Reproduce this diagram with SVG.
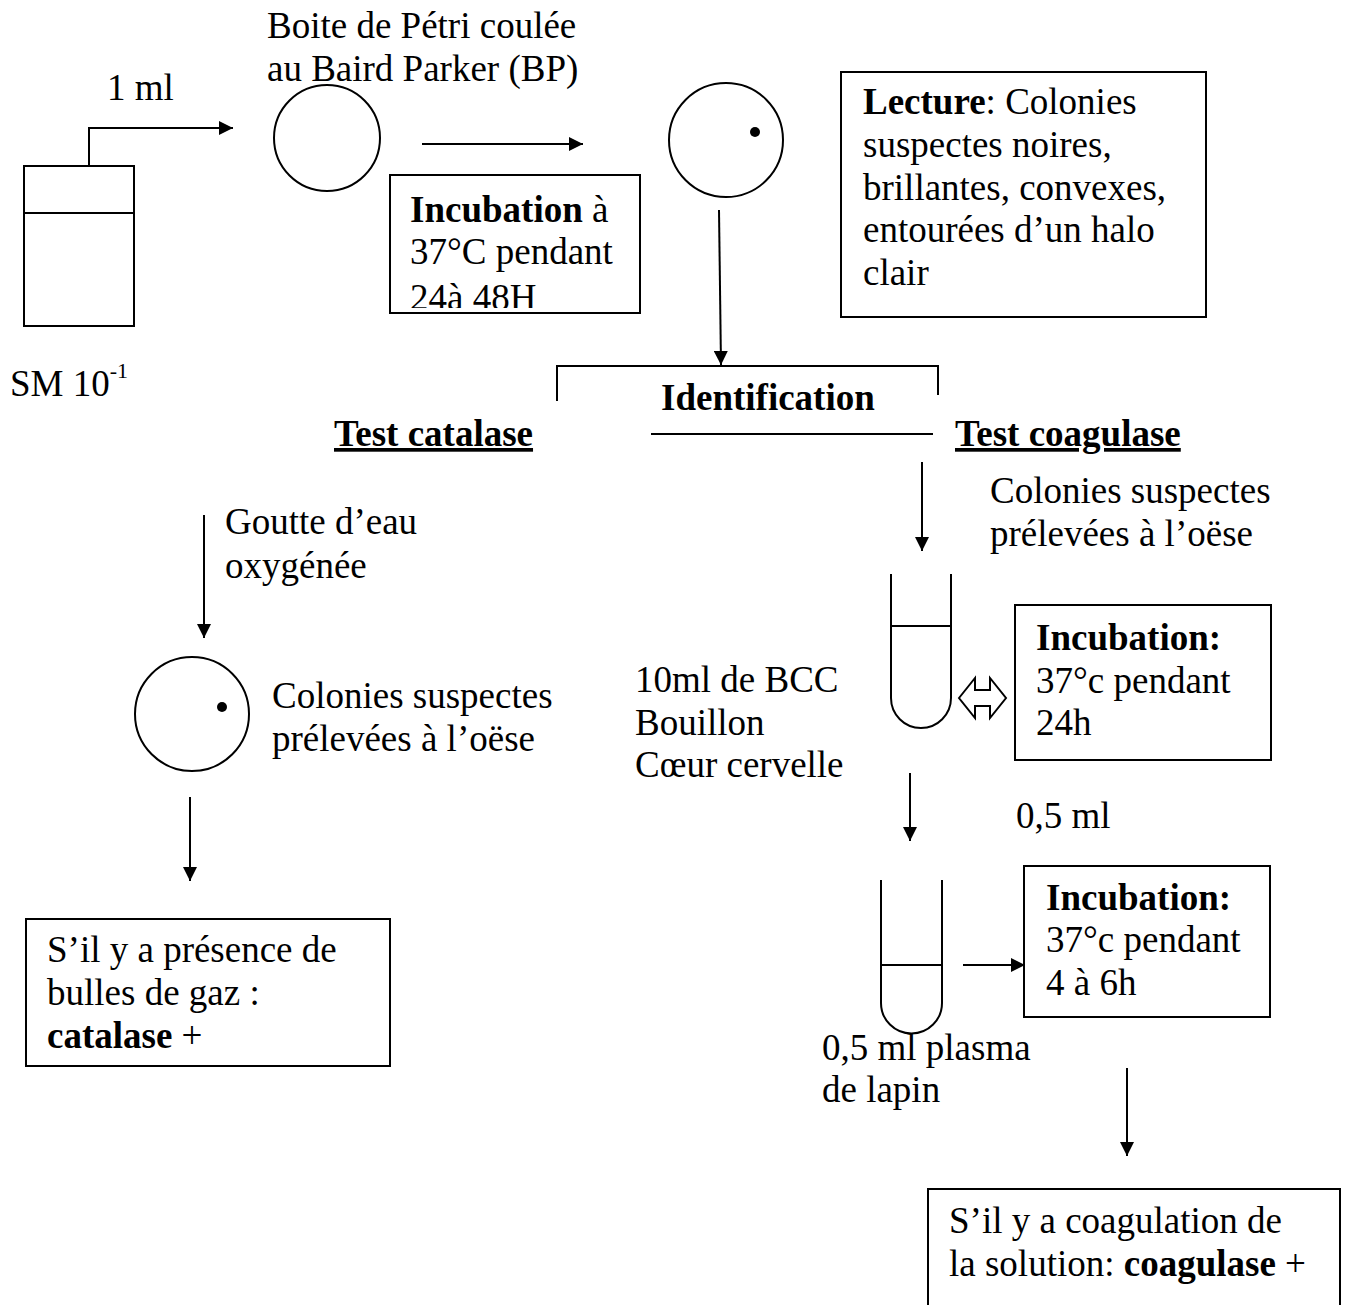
<svg xmlns="http://www.w3.org/2000/svg" width="1348" height="1305" viewBox="0 0 1348 1305">
<defs>
<style>
text{font-family:"Liberation Serif","Times New Roman",serif;font-size:37px;fill:#000}
.b{font-weight:bold}
.u{text-decoration:underline}
.ln{stroke:#000;stroke-width:2;fill:none}
.bx{stroke:#000;stroke-width:2;fill:#fff}
</style>
<marker id="ah" viewBox="0 0 10 10" refX="10" refY="5" markerWidth="14" markerHeight="14" markerUnits="userSpaceOnUse" orient="auto">
<path d="M0,0 L10,5 L0,10 Z" fill="#000"/>
</marker>
<clipPath id="clip1"><rect x="390" y="175" width="250" height="133"/></clipPath>
</defs>
<rect width="1348" height="1305" fill="#fff"/>

<g id="connectors">
<path class="ln" d="M89,166 V128 H233" marker-end="url(#ah)"/>
<line class="ln" x1="422" y1="144" x2="583" y2="144" marker-end="url(#ah)"/>
<line class="ln" x1="719" y1="210" x2="721" y2="365" marker-end="url(#ah)"/>
<path class="ln" d="M557,401 V366 H938 V395"/>
<line class="ln" x1="651" y1="434" x2="933" y2="434"/>
<line class="ln" x1="204" y1="515" x2="204" y2="638" marker-end="url(#ah)"/>
<line class="ln" x1="190" y1="797" x2="190" y2="881" marker-end="url(#ah)"/>
<line class="ln" x1="922" y1="462" x2="922" y2="551" marker-end="url(#ah)"/>
<path class="ln" d="M959,698 L975,678 L975,690 L990,690 L990,678 L1006,698 L990,718 L990,706 L975,706 L975,718 Z"/>
<line class="ln" x1="910" y1="773" x2="910" y2="841" marker-end="url(#ah)"/>
<line class="ln" x1="963" y1="965" x2="1025" y2="965" marker-end="url(#ah)"/>
<line class="ln" x1="1127" y1="1068" x2="1127" y2="1156" marker-end="url(#ah)"/>
</g>

<g id="flacon">
<rect class="bx" x="24" y="166" width="110" height="160"/>
<line class="ln" x1="24" y1="213" x2="134" y2="213"/>
<text x="10" y="396">SM 10<tspan font-size="22" dy="-18">-1</tspan></text>
</g>
<text id="label-1ml" x="107" y="100">1 ml</text>

<g id="boite1">
<circle class="ln" cx="327" cy="138" r="53"/>
<text x="267" y="38">Boite de Pétri coulée</text>
<text x="267" y="81">au Baird Parker (BP)</text>
</g>

<g id="incubation1">
<rect class="bx" x="390" y="175" width="250" height="138"/>
<g clip-path="url(#clip1)">
<text x="410" y="222"><tspan class="b">Incubation</tspan> à</text>
<text x="410" y="264">37°C pendant</text>
<text x="410" y="310">24à 48H</text>
</g>
</g>

<g id="boite2">
<circle class="ln" cx="726" cy="140" r="57"/>
<circle cx="755" cy="132" r="5" fill="#000"/>
</g>

<g id="lecture">
<rect class="bx" x="841" y="72" width="365" height="245"/>
<text x="863" y="114"><tspan class="b">Lecture</tspan>: Colonies</text>
<text x="863" y="157">suspectes noires,</text>
<text x="863" y="200">brillantes, convexes,</text>
<text x="863" y="242">entourées d’un halo</text>
<text x="863" y="285">clair</text>
</g>

<g id="identification">
<text class="b" x="661" y="410">Identification</text>
</g>
<g id="test-catalase"><text class="b u" x="334" y="446">Test catalase</text></g>
<g id="test-coagulase"><text class="b u" x="955" y="446">Test coagulase</text></g>

<g id="goutte">
<text x="225" y="534">Goutte d’eau</text>
<text x="225" y="578">oxygénée</text>
</g>

<g id="boite3">
<circle class="ln" cx="192" cy="714" r="57"/>
<circle cx="222" cy="707" r="5" fill="#000"/>
<text x="272" y="708">Colonies suspectes</text>
<text x="272" y="751">prélevées à l’oëse</text>
</g>

<g id="catalase-result">
<rect class="bx" x="26" y="919" width="364" height="147"/>
<text x="47" y="962">S’il y a présence de</text>
<text x="47" y="1005">bulles de gaz :</text>
<text x="47" y="1048"><tspan class="b">catalase</tspan> +</text>
</g>

<g id="colonies-coag">
<text x="990" y="503">Colonies suspectes</text>
<text x="990" y="546">prélevées à l’oëse</text>
</g>

<g id="tube1">
<path class="ln" d="M891,574 V698 A30,30 0 0 0 951,698 V574"/>
<line class="ln" x1="891" y1="626" x2="951" y2="626"/>
<text x="635" y="692">10ml de BCC</text>
<text x="635" y="735">Bouillon</text>
<text x="635" y="777">Cœur cervelle</text>
</g>

<g id="incubation2">
<rect class="bx" x="1015" y="605" width="256" height="155"/>
<text class="b" x="1036" y="650">Incubation:</text>
<text x="1036" y="693">37°c pendant</text>
<text x="1036" y="735">24h</text>
</g>

<text id="label-05ml" x="1016" y="828">0,5 ml</text>

<g id="tube2">
<path class="ln" d="M881,880 V1003 A30.5,30.5 0 0 0 942,1003 V880"/>
<line class="ln" x1="881" y1="965" x2="942" y2="965"/>
<text x="822" y="1060">0,5 ml plasma</text>
<text x="822" y="1102">de lapin</text>
</g>

<g id="incubation3">
<rect class="bx" x="1024" y="866" width="246" height="151"/>
<text class="b" x="1046" y="910">Incubation:</text>
<text x="1046" y="952">37°c pendant</text>
<text x="1046" y="995">4 à 6h</text>
</g>

<g id="coagulase-result">
<rect class="bx" x="928" y="1189" width="412" height="130"/>
<text x="949" y="1233">S’il y a coagulation de</text>
<text x="949" y="1276">la solution: <tspan class="b">coagulase</tspan> +</text>
</g>
</svg>
